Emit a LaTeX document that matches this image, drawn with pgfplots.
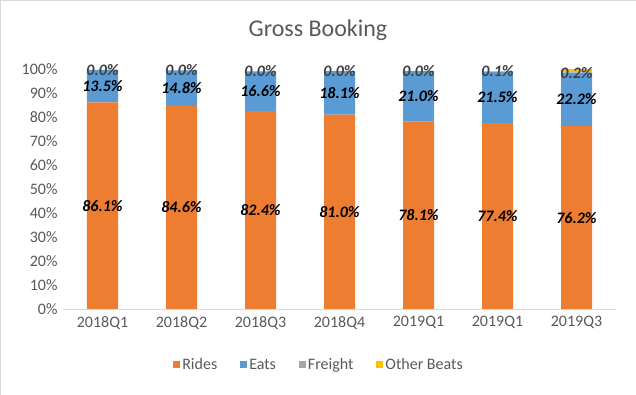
\documentclass[border=0pt]{standalone}
\usepackage{pgfplots}
\pgfplotsset{compat=1.18}
\usepackage{pgfplotstable}
\usepackage{fontspec}
\setmainfont{Carlito}
\definecolor{rides}{HTML}{ED7D31}
\definecolor{eats}{HTML}{5B9BD5}
\definecolor{freight}{HTML}{A5A5A5}
\definecolor{other}{HTML}{FFC000}
\definecolor{txtgray}{HTML}{595959}
\definecolor{linegray}{HTML}{D9D9D9}
\definecolor{lblgray}{HTML}{404040}
\pgfplotstableread{
x rides eats freight other
0 86.1 13.5 0.02 0.0
1 84.6 14.8 0.02 0.0
2 82.4 16.6 0.03 0.0
3 81.0 18.1 0.03 0.0
4 78.1 21.0 0.04 0.0
5 77.4 21.5 0.1 0.0
6 76.2 22.2 0.2 1.4
}\data
\begin{document}
\begin{tikzpicture}
\begin{axis}[
  name=ax,
  scale only axis, width=553pt, height=240pt,
  ybar stacked, bar width=31pt,
  xmin=-0.5, xmax=6.5, ymin=0, ymax=100,
  xtick={0,...,6},
  xticklabels={2018Q1,2018Q2,2018Q3,2018Q4,2019Q1,2019Q1,2019Q3},
  ytick={0,10,...,100},
  yticklabel={\pgfmathprintnumber{\tick}\%},
  /pgf/number format/assume math mode=true,
  ticklabel style={text=txtgray, font=\fontsize{16}{18}\selectfont},
  major tick style={draw=none},
  axis x line*=bottom, axis y line*=left,
  x axis line style={draw=linegray, line width=0.8pt, -},
  y axis line style={draw=none},
  xticklabel style={yshift=-4pt},
  yticklabel style={xshift=-2pt},
  legend columns=4,
  legend style={draw=none, fill=none, at={(0.463,-0.233)}, anchor=center,
    font=\fontsize{16}{18}\selectfont, text=txtgray,
    /tikz/every even column/.append style={column sep=21pt}},
  legend image code/.code={\fill[#1] (0pt,-3.5pt) rectangle (7pt,3.5pt);},
  nodes near coords={\pgfmathprintnumber[fixed,zerofill,precision=1]{\pgfplotspointmeta}\%},
  point meta=explicit,
]
\addplot[fill=rides, draw=none,
  every node near coord/.append style={anchor=center, text=black, font=\fontsize{16}{18}\selectfont\bfseries\itshape}]
  table[x=x, y=rides, meta=rides] {\data};
\addplot[fill=eats, draw=none,
  every node near coord/.append style={anchor=center, text=black, font=\fontsize{16}{18}\selectfont\bfseries\itshape}]
  table[x=x, y=eats, meta=eats] {\data};
\addplot[fill=freight, draw=none,
  every node near coord/.append style={anchor=center, text=lblgray, font=\fontsize{16}{18}\selectfont\bfseries\itshape}]
  table[x=x, y=freight, meta=freight] {\data};
\addplot[fill=other, draw=none, nodes near coords={}]
  table[x=x, y=other, meta=other] {\data};
\legend{Rides, Eats, Freight, Other Beats}
\end{axis}
\draw[color=linegray, line width=0.4pt] ([shift={(-62.8pt,-85.8pt)}]ax.south west) rectangle ([shift={(572.8pt,308.8pt)}]ax.south west);
\node[text=txtgray, font=\fontsize{24}{28}\selectfont] at ([shift={(255pt,279pt)}]ax.south west) {Gross Booking};
\end{tikzpicture}
\end{document}
